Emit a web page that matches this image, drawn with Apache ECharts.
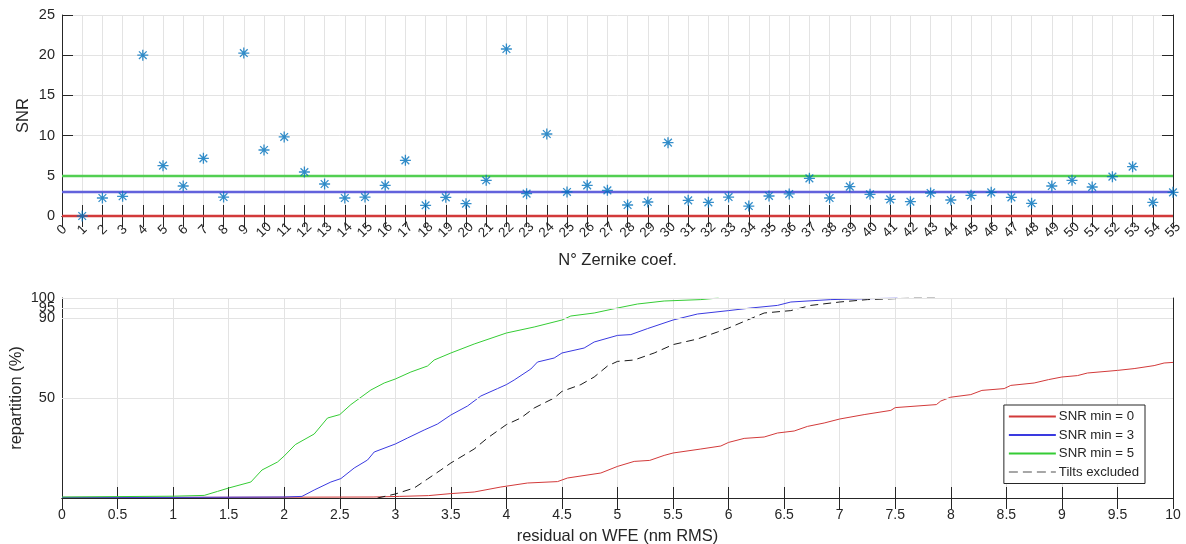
<!DOCTYPE html>
<html><head><meta charset="utf-8">
<script src="https://cdn.jsdelivr.net/npm/echarts@6/dist/echarts.min.js"></script>
<style>html,body{margin:0;padding:0;background:#fff}#c{width:1186px;height:544px}</style>
</head><body><div id="c"></div>
<script>
// ---- Top chart data ----
const zernikeIndex = [1,2,3,4,5,6,7,8,9,10,11,12,13,14,15,16,17,18,19,20,21,22,23,24,25,26,27,28,29,30,31,32,33,34,35,36,37,38,39,40,41,42,43,44,45,46,47,48,49,50,51,52,53,54,55];
const snrValues = [0,2.24,2.45,20.0,6.26,3.73,7.17,2.36,20.27,8.21,9.83,5.47,3.98,2.24,2.36,3.81,6.92,1.33,2.32,1.53,4.44,20.77,2.78,10.2,2.99,3.81,3.19,1.37,1.74,9.12,1.95,1.70,2.36,1.24,2.49,2.74,4.68,2.24,3.65,2.69,2.07,1.78,2.86,1.99,2.57,2.94,2.32,1.58,3.73,4.44,3.61,4.89,6.14,1.70,2.94];
const snrThresholds = [0, 3, 5];
const thresholdColors = ['#d23a3a', '#6262dc', '#52cf52'];

// ---- Bottom chart data: [residual nm RMS, repartition %] ----
const curveSnr0 = [[0,0.3],[1,0.3],[2,0.4],[2.8,0.5],[3.04,0.8],[3.3,1.2],[3.5,2.2],[3.71,3],[3.95,5.5],[4.19,7.5],[4.46,8.2],[4.55,10],[4.85,12.5],[5.0,15.8],[5.15,18.3],[5.29,18.8],[5.42,21.3],[5.5,22.5],[5.75,24.5],[5.93,26],[6.0,27.8],[6.14,29.8],[6.32,30.5],[6.44,32.5],[6.59,33.5],[6.71,35.8],[6.86,37.5],[7.0,39.5],[7.22,41.7],[7.46,43.8],[7.5,45.2],[7.87,46.7],[7.91,48.5],[8.0,50.4],[8.18,51.7],[8.28,53.8],[8.48,54.7],[8.54,56.3],[8.75,57.5],[8.88,59.2],[9.0,60.5],[9.14,61.2],[9.23,62.5],[9.5,63.8],[9.65,64.7],[9.83,66.2],[9.92,67.5],[10,67.8]];
const curveSnr3 = [[0,0.3],[1,0.3],[2,0.5],[2.16,0.8],[2.27,4],[2.42,8],[2.51,9.7],[2.63,15],[2.75,19],[2.81,23],[3.0,27],[3.11,30],[3.26,34],[3.38,37],[3.5,41.5],[3.65,46],[3.77,51],[3.92,54.7],[4.0,56.7],[4.07,59],[4.22,64.5],[4.28,68],[4.43,70],[4.5,72.5],[4.7,75],[4.79,78],[5.0,81.3],[5.12,81.7],[5.27,84.7],[5.5,89],[5.72,92],[6.0,93.7],[6.2,95],[6.44,96.3],[6.56,98],[6.92,99.2],[7.52,100]];
const curveSnr5 = [[0,0.5],[1,0.9],[1.28,1.3],[1.4,3.3],[1.5,5],[1.7,8],[1.8,14],[1.94,18],[2.0,21],[2.1,26.7],[2.27,32],[2.39,40],[2.5,41.7],[2.6,46.7],[2.78,54],[2.9,57.5],[3.0,59.5],[3.14,63],[3.29,66],[3.35,69],[3.5,72.5],[3.71,77],[4.0,82.5],[4.25,85.5],[4.5,89],[4.58,91],[4.79,92.5],[5.0,95],[5.18,97],[5.42,98.5],[5.75,99.2],[5.91,100]];
const curveTilts = [[2.84,0],[3.0,2],[3.17,5],[3.29,9.5],[3.41,14],[3.5,17.5],[3.71,24.5],[3.83,30],[4.0,36.7],[4.13,40],[4.25,45],[4.43,50],[4.5,53.3],[4.67,56.7],[4.79,60.5],[4.91,66],[5.0,68.3],[5.15,69],[5.33,72.5],[5.5,76.7],[5.72,79.5],[5.9,83],[6.0,85],[6.17,89],[6.32,92.5],[6.56,93.7],[6.74,96.3],[7.0,98],[7.25,99.2],[7.67,100],[7.9,100]];
const legendNames = ['SNR min = 0', 'SNR min = 3', 'SNR min = 5', 'Tilts excluded'];
const repartitionTicks = [50, 90, 95, 100];
const repartitionLabelsA = [50, 90, 100];
const repartitionLabelsB = [95];

const FONT = 'Liberation Sans, Arial, Helvetica, sans-serif';
const TXT = '#262626';
const AX = '#262626';
const GRIDC = '#e3e3e3';

const chart = echarts.init(document.getElementById('c'), null, {renderer: 'canvas'});

function mirrorX(gridIndex, min, max, interval) {
  return {gridIndex, type: 'value', position: 'top', min, max, interval,
    axisLine: {show: true, lineStyle: {color: AX, width: 1}},
    axisTick: {show: true, inside: true, length: 11, lineStyle: {color: AX}},
    axisLabel: {show: false}, splitLine: {show: false}};
}

const option = {
  animation: false,
  backgroundColor: '#fff',
  textStyle: {fontFamily: FONT, color: TXT},
  grid: [
    {left: 62, right: 13, top: 15, height: 201, outerBoundsMode: 'none', containLabel: false},
    {left: 62, right: 13, top: 298, height: 200, outerBoundsMode: 'none', containLabel: false}
  ],
  xAxis: [
    {gridIndex: 0, type: 'value', min: 0, max: 55, interval: 1,
     name: 'N° Zernike coef.', nameLocation: 'middle', nameGap: 36,
     nameTextStyle: {fontSize: 16.5, color: TXT, fontFamily: FONT},
     axisLine: {show: true, onZero: false, lineStyle: {color: AX}},
     axisTick: {show: true, inside: true, length: 11, lineStyle: {color: AX}},
     axisLabel: {rotate: 45, align: 'center', verticalAlign: 'middle', fontSize: 13.5, color: TXT, fontFamily: FONT, margin: 14,
                 showMinLabel: true, showMaxLabel: true},
     splitLine: {show: true, lineStyle: {color: GRIDC}}},
    mirrorX(0, 0, 55, 1),
    {gridIndex: 1, type: 'value', min: 0, max: 10, interval: 0.5,
     name: 'residual on WFE (nm RMS)', nameLocation: 'middle', nameGap: 30,
     nameTextStyle: {fontSize: 16.5, color: TXT, fontFamily: FONT},
     axisLine: {show: true, onZero: false, lineStyle: {color: AX}},
     axisTick: {show: true, inside: true, length: 11, lineStyle: {color: AX}},
     axisLabel: {fontSize: 14, color: TXT, fontFamily: FONT, margin: 10, showMinLabel: true, showMaxLabel: true},
     splitLine: {show: true, lineStyle: {color: GRIDC}}},
    mirrorX(1, 0, 10, 0.5)
  ],
  yAxis: [
    {gridIndex: 0, type: 'value', min: 0, max: 25, interval: 5,
     name: 'SNR', nameLocation: 'middle', nameGap: 30, nameMoveOverlap: false,
     nameTextStyle: {fontSize: 16.5, color: TXT, fontFamily: FONT},
     axisLine: {show: true, onZero: false, lineStyle: {color: AX}},
     axisTick: {show: true, inside: true, length: 11, lineStyle: {color: AX}},
     axisLabel: {fontSize: 14.5, color: TXT, fontFamily: FONT, margin: 7, showMinLabel: true, showMaxLabel: true},
     splitLine: {show: true, lineStyle: {color: GRIDC}}},
    {gridIndex: 0, type: 'value', position: 'right', min: 0, max: 25, interval: 5,
     axisLine: {show: true, onZero: false, lineStyle: {color: AX}},
     axisTick: {show: true, inside: true, length: 11, lineStyle: {color: AX}},
     axisLabel: {show: false}, splitLine: {show: false}},
    {gridIndex: 1, type: 'value', min: 0, max: 100,
     name: 'repartition (%)', nameLocation: 'middle', nameGap: 37, nameMoveOverlap: false,
     nameTextStyle: {fontSize: 16.5, color: TXT, fontFamily: FONT},
     axisLine: {show: true, onZero: false, lineStyle: {color: AX}},
     axisTick: {show: true, inside: true, length: 11, customValues: repartitionTicks, lineStyle: {color: AX}},
     axisLabel: {fontSize: 14.5, color: TXT, fontFamily: FONT, margin: 7, customValues: repartitionLabelsA,
                 showMinLabel: true, showMaxLabel: true, hideOverlap: false},
     splitLine: {show: false}},
    {gridIndex: 1, type: 'value', position: 'right', min: 0, max: 100,
     axisLine: {show: true, onZero: false, lineStyle: {color: AX}},
     axisTick: {show: true, inside: true, length: 11, customValues: repartitionTicks, lineStyle: {color: AX}},
     axisLabel: {show: false, customValues: repartitionTicks}, splitLine: {show: false}},
    {gridIndex: 1, type: 'value', position: 'left', min: 0, max: 100,
     axisLine: {show: false}, axisTick: {show: false}, splitLine: {show: false},
     axisLabel: {fontSize: 14.5, color: TXT, fontFamily: FONT, margin: 7, customValues: repartitionLabelsB,
                 showMinLabel: true, showMaxLabel: true, hideOverlap: false}}
  ],
  legend: {
    data: legendNames.map((n, i) => i === 3
      ? {name: n, itemStyle: {opacity: 0}, lineStyle: {color: '#8a8a8a', type: [9, 5], width: 1.6}}
      : {name: n, itemStyle: {opacity: 0}}),
    orient: 'vertical', right: 41, top: 405,
    itemWidth: 47, itemHeight: 13, itemGap: 5.5,
    backgroundColor: '#fff', borderColor: '#262626', borderWidth: 1,
    padding: [5, 6, 5, 4],
    textStyle: {fontSize: 13.2, color: TXT, fontFamily: FONT, padding: [0, 0, 0, -2]}
  },
  series: [
    {type: 'scatter', xAxisIndex: 0, yAxisIndex: 0,
     data: zernikeIndex.map((k, i) => [k, snrValues[i]]),
     symbol: 'path://M0,-5L0,5M-5,0L5,0M-3.5,-3.5L3.5,3.5M-3.5,3.5L3.5,-3.5',
     symbolSize: 11,
     itemStyle: {color: 'rgba(0,0,0,0)', borderColor: '#0072BD', borderWidth: 1.3},
     z: 5,
     markLine: {silent: true, symbol: 'none', label: {show: false}, z: 3,
       data: snrThresholds.map((t, i) => ({yAxis: t, lineStyle: {color: thresholdColors[i], width: 2.4, type: 'solid'}}))}
    },
    {type: 'line', xAxisIndex: 2, yAxisIndex: 2, data: [], z: 1,
     markLine: {silent: true, symbol: 'none', label: {show: false},
       lineStyle: {color: GRIDC, width: 1, type: 'solid'},
       data: repartitionTicks.map(v => ({yAxis: v}))}},
    {name: legendNames[0], type: 'line', xAxisIndex: 2, yAxisIndex: 2, data: curveSnr0, showSymbol: false, symbol: 'none',
     lineStyle: {color: '#d23a3a', width: 1}, itemStyle: {color: '#d23a3a'}},
    {name: legendNames[1], type: 'line', xAxisIndex: 2, yAxisIndex: 2, data: curveSnr3, showSymbol: false, symbol: 'none',
     lineStyle: {color: '#3a3ae0', width: 1}, itemStyle: {color: '#3a3ae0'}},
    {name: legendNames[2], type: 'line', xAxisIndex: 2, yAxisIndex: 2, data: curveSnr5, showSymbol: false, symbol: 'none',
     lineStyle: {color: '#35cc35', width: 1}, itemStyle: {color: '#35cc35'}},
    {name: legendNames[3], type: 'line', xAxisIndex: 2, yAxisIndex: 2, data: curveTilts, showSymbol: false, symbol: 'none',
     lineStyle: {color: '#1a1a1a', width: 1, type: [8, 5]}, itemStyle: {color: '#1a1a1a'}}
  ]
};
chart.setOption(option);
</script>
</body></html>
